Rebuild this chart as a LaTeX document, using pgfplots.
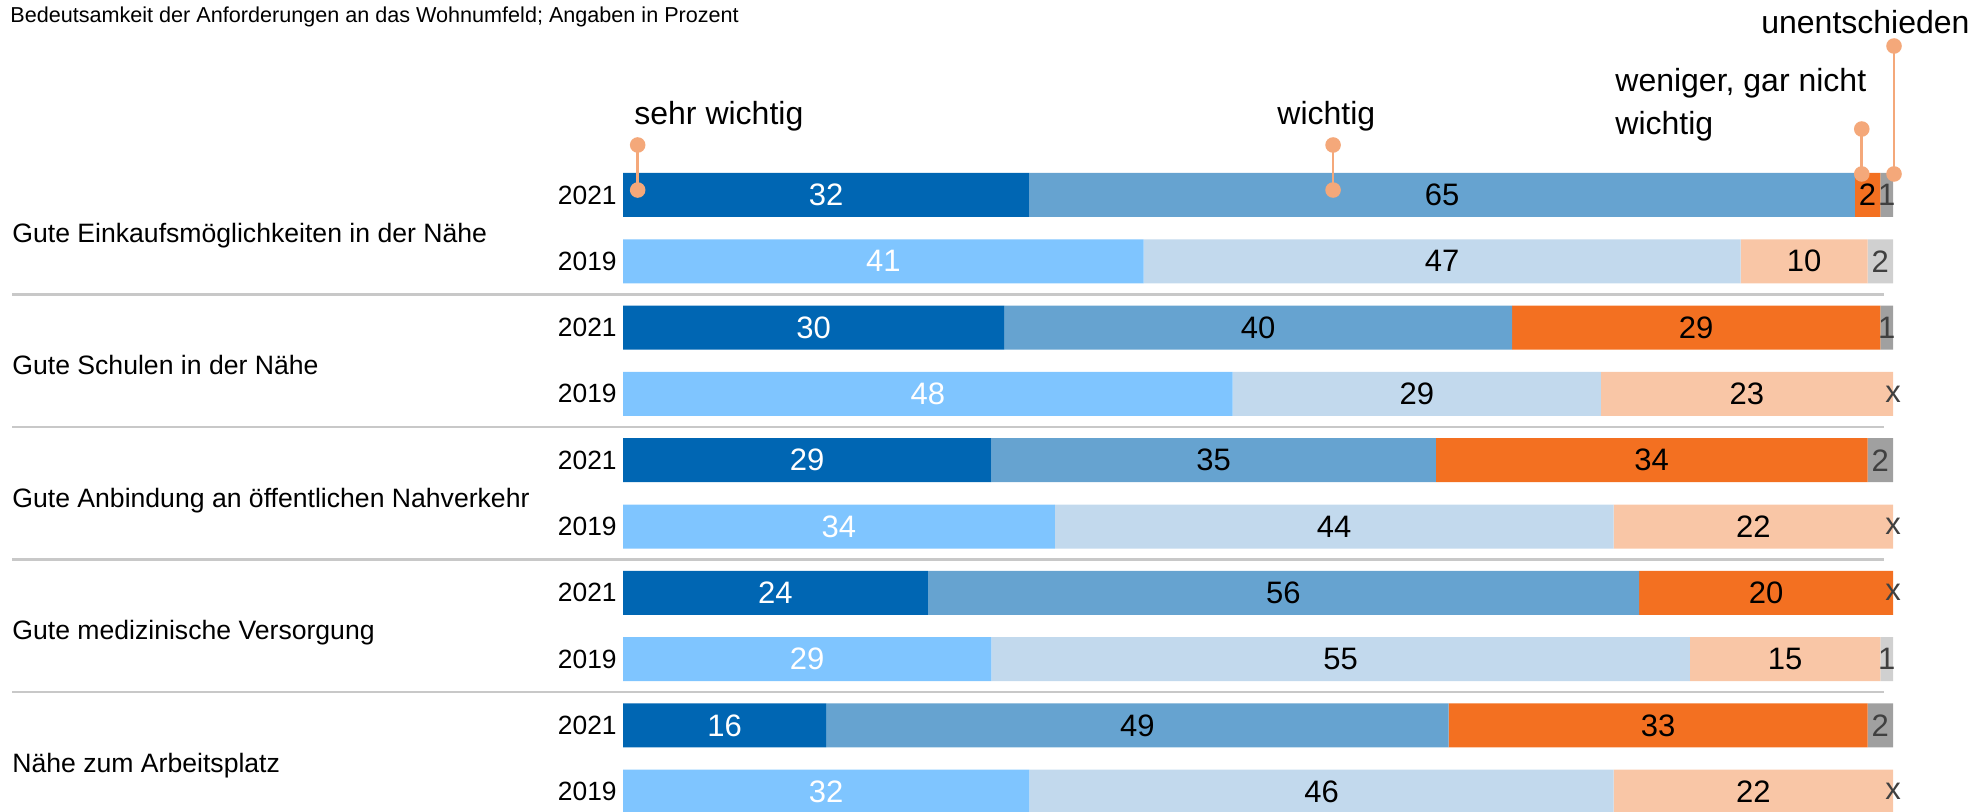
\documentclass[border=0pt]{standalone}
\usepackage{fontspec}
\setmainfont{Liberation Sans}
\usepackage{pgfplots}
\usepackage{pgfplotstable}
\pgfplotsset{compat=1.18}

% 2021 palette
\definecolor{nA}{RGB}{0,102,179}
\definecolor{nB}{RGB}{102,163,208}
\definecolor{nC}{RGB}{243,112,33}
\definecolor{nD}{RGB}{160,160,160}
% 2019 palette
\definecolor{oA}{RGB}{127,197,255}
\definecolor{oB}{RGB}{194,217,237}
\definecolor{oC}{RGB}{249,198,166}
\definecolor{oD}{RGB}{208,208,208}
% accents
\definecolor{lead}{RGB}{244,168,122}
\definecolor{rule}{RGB}{200,200,200}
\definecolor{dgray}{RGB}{64,64,64}

% a = sehr wichtig, b = wichtig, c = weniger/gar nicht wichtig, d = unentschieden
\pgfplotstableread{
y  a  b  c  d ld
0  32 65 2  1 1
-2 30 40 29 1 1
-4 29 35 34 2 2
-6 24 56 20 0 x
-8 16 49 33 2 2
}\tabA
\pgfplotstableread{
y  a  b  c  d ld
-1 41 47 10 2 2
-3 48 29 23 0 x
-5 34 44 22 0 x
-7 29 55 15 1 1
-9 32 46 22 0 x
}\tabB

\pgfplotsset{
  frame/.style={width=988.5pt, height=405.5pt, scale only axis,
    xmin=-49.055, xmax=106.614, ymin=-9.291, ymax=2.941, hide axis},
  seg/.style={fill=#1, draw=none},
  lab/.style={only marks, mark=*, mark size=0pt,
    mark options={draw=none, fill=none},
    point meta=explicit symbolic, nodes near coords,
    every node near coord/.append style={anchor=center, inner sep=0pt,
      font=\fontsize{15.5}{17}\selectfont, text=#1}},
}
\tikzset{
  cat/.style={anchor=base west, inner sep=0pt, yshift=-7pt, font=\fontsize{13.3}{15}\selectfont},
  yr/.style={anchor=east, inner sep=0pt, font=\fontsize{13.2}{15}\selectfont},
  ann/.style={anchor=base west, inner sep=0pt, font=\fontsize{16}{18}\selectfont},
  ld/.style={lead, line width=1.35pt},
  sep/.style={rule, line width=1.2pt},
}

\begin{document}
\begin{tikzpicture}
% 2021 bars
\begin{axis}[frame, name=ax, xbar stacked, bar width=22pt]
\addplot[seg=nA] table[x=a, y=y] {\tabA};
\addplot[seg=nB] table[x=b, y=y] {\tabA};
\addplot[seg=nC] table[x=c, y=y] {\tabA};
\addplot[seg=nD] table[x=d, y=y] {\tabA};
\end{axis}
% 2019 bars
\begin{axis}[frame, xbar stacked, bar width=22pt]
\addplot[seg=oA] table[x=a, y=y] {\tabB};
\addplot[seg=oB] table[x=b, y=y] {\tabB};
\addplot[seg=oC] table[x=c, y=y] {\tabB};
\addplot[seg=oD] table[x=d, y=y] {\tabB};
\end{axis}
% values, labels and annotations
\begin{axis}[frame, clip=false]
\addplot[lab=white] table[x expr=\thisrow{a}/2, y=y, meta=a] {\tabA};
\addplot[lab=black] table[x expr=\thisrow{a}+\thisrow{b}/2, y=y, meta=b] {\tabA};
\addplot[lab=black] table[x expr=\thisrow{a}+\thisrow{b}+\thisrow{c}/2, y=y, meta=c] {\tabA};
\addplot[lab=dgray] table[x expr=\thisrow{a}+\thisrow{b}+\thisrow{c}+\thisrow{d}/2, y=y, meta=ld] {\tabA};
\addplot[lab=white] table[x expr=\thisrow{a}/2, y=y, meta=a] {\tabB};
\addplot[lab=black] table[x expr=\thisrow{a}+\thisrow{b}/2, y=y, meta=b] {\tabB};
\addplot[lab=black] table[x expr=\thisrow{a}+\thisrow{b}+\thisrow{c}/2, y=y, meta=c] {\tabB};
\addplot[lab=dgray] table[x expr=\thisrow{a}+\thisrow{b}+\thisrow{c}+\thisrow{d}/2, y=y, meta=ld] {\tabB};

% group separators
\draw[sep] (axis cs:-48.1,-1.5) -- (axis cs:99.3,-1.5);
\draw[sep] (axis cs:-48.1,-3.5) -- (axis cs:99.3,-3.5);
\draw[sep] (axis cs:-48.1,-5.5) -- (axis cs:99.3,-5.5);
\draw[sep] (axis cs:-48.1,-7.5) -- (axis cs:99.3,-7.5);

% year labels
\node[yr] at (axis cs:-0.47,0) {2021};
\node[yr] at (axis cs:-0.47,-1) {2019};
\node[yr] at (axis cs:-0.47,-2) {2021};
\node[yr] at (axis cs:-0.47,-3) {2019};
\node[yr] at (axis cs:-0.47,-4) {2021};
\node[yr] at (axis cs:-0.47,-5) {2019};
\node[yr] at (axis cs:-0.47,-6) {2021};
\node[yr] at (axis cs:-0.47,-7) {2019};
\node[yr] at (axis cs:-0.47,-8) {2021};
\node[yr] at (axis cs:-0.47,-9) {2019};

% category labels
\node[cat] at (axis cs:-48.11,-0.5) {Gute Einkaufsmöglichkeiten in der Nähe};
\node[cat] at (axis cs:-48.11,-2.5) {Gute Schulen in der Nähe};
\node[cat] at (axis cs:-48.11,-4.5) {Gute Anbindung an öffentlichen Nahverkehr};
\node[cat] at (axis cs:-48.11,-6.5) {Gute medizinische Versorgung};
\node[cat] at (axis cs:-48.11,-8.5) {Nähe zum Arbeitsplatz};

% title
\node[anchor=base west, inner sep=0pt, font=\fontsize{10.8}{13}\selectfont] at (axis cs:-48.27,2.594)
  {Bedeutsamkeit der Anforderungen an das Wohnumfeld; Angaben in Prozent};

% series annotations with leader lines
\node[ann] at (axis cs:0.866,1.056) {sehr wichtig};
\node[ann] at (axis cs:51.5,1.056) {wichtig};
\node[ann] at (axis cs:78.11,1.554) {weniger, gar nicht};
\node[ann] at (axis cs:78.11,0.905) {wichtig};
\node[ann] at (axis cs:89.6,2.443) {unentschieden};

\draw[ld] (axis cs:1.157,0.754) -- (axis cs:1.157,0.075);
\fill[lead] (axis cs:1.157,0.754) circle[radius=3.9pt] (axis cs:1.157,0.075) circle[radius=3.9pt];
\draw[ld] (axis cs:55.91,0.754) -- (axis cs:55.91,0.075);
\fill[lead] (axis cs:55.91,0.754) circle[radius=3.9pt] (axis cs:55.91,0.075) circle[radius=3.9pt];
\draw[ld] (axis cs:97.54,0.995) -- (axis cs:97.54,0.317);
\fill[lead] (axis cs:97.54,0.995) circle[radius=3.9pt] (axis cs:97.54,0.317) circle[radius=3.9pt];
\draw[ld] (axis cs:100.08,2.247) -- (axis cs:100.08,0.317);
\fill[lead] (axis cs:100.08,2.247) circle[radius=3.9pt] (axis cs:100.08,0.317) circle[radius=3.9pt];
\end{axis}
\pgfresetboundingbox
\path (ax.south west) rectangle (ax.north east);
\end{tikzpicture}
\end{document}
